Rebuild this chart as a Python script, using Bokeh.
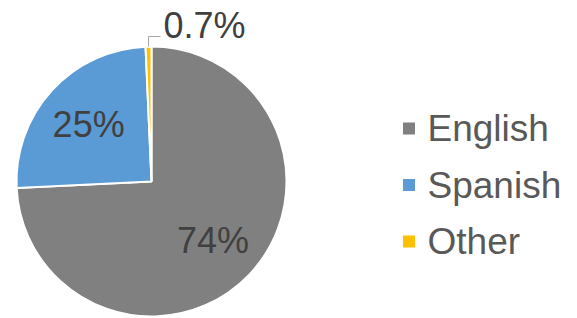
import numpy as np
from bokeh.plotting import figure
from bokeh.models import Range1d, ColumnDataSource
from bokeh.core.properties import value
from bokeh.embed import file_html
from bokeh.resources import INLINE

# ---- data ----
categories = ["English", "Spanish", "Other"]
shares = [74, 25, 0.7]
label_texts = ["74%", "25%", "0.7%"]
colors = ["#808080", "#5B9BD5", "#FFC000"]

# ---- layout ----
W, H = 577, 318
FONT = "Liberation Sans"
p = figure(width=W, height=H, x_range=Range1d(0, W), y_range=Range1d(0, H),
           output_backend="svg", toolbar_location=None,
           x_axis_type=None, y_axis_type=None, min_border=0,
           outline_line_color=None)
p.grid.visible = False
p.background_fill_color = "white"
p.border_fill_color = "white"

cx, cy, R = 151, 137, 135
frac = np.array(shares, dtype=float) / sum(shares)
cum = np.concatenate([[0.0], np.cumsum(frac)])
a0 = cum[:-1] * 2 * np.pi  # clockwise from 12 o'clock
a1 = cum[1:] * 2 * np.pi
start = np.pi / 2 - a1
end = np.pi / 2 - a0

src = ColumnDataSource(dict(x=[cx] * len(shares), y=[cy] * len(shares),
                            start=start, end=end, color=colors, cat=categories))
p.wedge(x="x", y="y", radius=R, start_angle="start", end_angle="end",
        fill_color="color", line_color="white", line_width=2, source=src)

mid = (a0 + a1) / 2
# inner labels for big slices
rl = 0.63 * R
lx = [cx + rl * np.sin(m) for m in mid[:2]]
ly = [cy + rl * np.cos(m) for m in mid[:2]]
p.text(x=lx, y=ly, text=label_texts[:2], text_font=value(FONT),
       text_font_size="36px", text_color="#404040",
       text_align="center", text_baseline="middle")

# outside label with leader for the small slice
ex = cx + R * np.sin(mid[2])
ey = cy + R * np.cos(mid[2])
p.line(x=[ex, ex, ex + 12], y=[ey, ey + 10, ey + 10], line_color="#A6A6A6", line_width=1)
p.text(x=[ex + 15], y=[ey + 21.5], text=[label_texts[2]], text_font=value(FONT),
       text_font_size="36px", text_color="#404040",
       text_align="left", text_baseline="middle")

# legend
ly0, lstep = 190, 56.5
leg_y = [ly0 - i * lstep for i in range(len(categories))]
p.scatter(x=[408.5] * len(categories), y=leg_y, marker="square", size=12,
          fill_color=colors, line_color=None)
p.text(x=[427] * len(categories), y=leg_y, text=categories, text_font=value(FONT),
       text_font_size="37px", text_color="#595959",
       text_align="left", text_baseline="middle")

open("out.html", "w").write(file_html(p, INLINE))
